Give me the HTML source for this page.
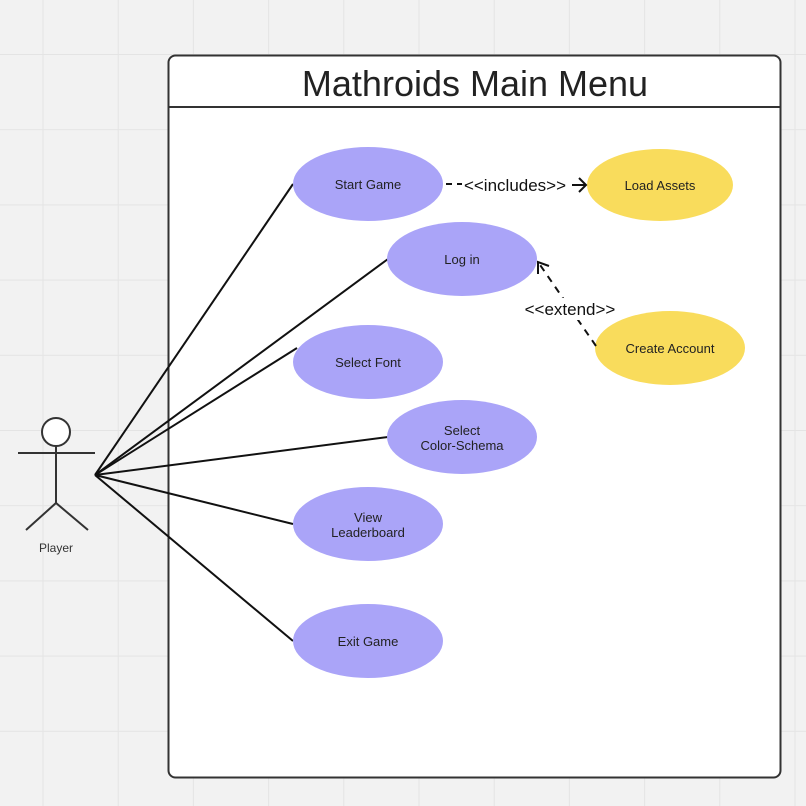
<!DOCTYPE html>
<html><head><meta charset="utf-8"><style>
body{margin:0;width:806px;height:806px;overflow:hidden;background:#f2f2f2;}
svg{display:block}
text{font-family:"Liberation Sans","DejaVu Sans",sans-serif;}
</style></head><body>
<svg width="806" height="806" viewBox="0 0 806 806" xmlns="http://www.w3.org/2000/svg">
<defs>
<pattern id="g" x="42.5" y="54" width="75.2" height="75.2" patternUnits="userSpaceOnUse">
<path d="M0 0V75.2M0 0H75.2" stroke="#e4e4e4" stroke-width="2" fill="none"/>
</pattern>
</defs>
<rect width="806" height="806" fill="url(#g)"/>
<rect x="168.5" y="55.5" width="612" height="722" rx="7" fill="#fff" stroke="#333" stroke-width="2"/>
<line x1="168" y1="107" x2="781" y2="107" stroke="#333" stroke-width="2"/>
<text x="475" y="96" font-size="36" text-anchor="middle" fill="#222">Mathroids Main Menu</text>
<g stroke="#111" stroke-width="2">
<line x1="95" y1="475" x2="293" y2="184"/>
<line x1="95" y1="475" x2="388" y2="259"/>
<line x1="95" y1="475" x2="297" y2="348"/>
<line x1="95" y1="475" x2="388" y2="437"/>
<line x1="95" y1="475" x2="293" y2="524"/>
<line x1="95" y1="475" x2="293" y2="641"/>
</g>
<g fill="#aaa4f8">
<ellipse cx="368" cy="184" rx="75" ry="37"/>
<ellipse cx="462" cy="259" rx="75" ry="37"/>
<ellipse cx="368" cy="362" rx="75" ry="37"/>
<ellipse cx="462" cy="437" rx="75" ry="37"/>
<ellipse cx="368" cy="524" rx="75" ry="37"/>
<ellipse cx="368" cy="641" rx="75" ry="37"/>
</g>
<g fill="#f9dc5c">
<ellipse cx="660" cy="185" rx="73" ry="36"/>
<ellipse cx="670" cy="348" rx="75" ry="37"/>
</g>
<g font-size="13" fill="#222" text-anchor="middle">
<text x="368" y="189">Start Game</text>
<text x="462" y="264">Log in</text>
<text x="368" y="367">Select Font</text>
<text x="462" y="435">Select</text>
<text x="462" y="450">Color-Schema</text>
<text x="368" y="522">View</text>
<text x="368" y="537">Leaderboard</text>
<text x="368" y="646">Exit Game</text>
<text x="660" y="190">Load Assets</text>
<text x="670" y="353">Create Account</text>
</g>
<g stroke="#111" stroke-width="2" fill="none">
<path d="M446 184H462" stroke-dasharray="6 5"/>
<path d="M572 185H585M579 178L586 185L579 192"/>
<path d="M596 346L538 262" stroke-dasharray="7 6"/>
<path d="M538 274L538 262L549 266"/>
</g>
<rect x="521" y="298" width="100" height="22" fill="#fff"/>
<g font-size="17" fill="#111" text-anchor="middle">
<text x="515" y="191">&lt;&lt;includes&gt;&gt;</text>
<text x="570" y="315">&lt;&lt;extend&gt;&gt;</text>
</g>
<g stroke="#333" stroke-width="2" fill="none">
<circle cx="56" cy="432" r="14" fill="#fff"/>
<line x1="56" y1="446" x2="56" y2="503"/>
<line x1="18" y1="453" x2="95" y2="453"/>
<path d="M26 530L56 503L88 530"/>
</g>
<text x="56" y="552" font-size="12" text-anchor="middle" fill="#333">Player</text>
</svg>
</body></html>
